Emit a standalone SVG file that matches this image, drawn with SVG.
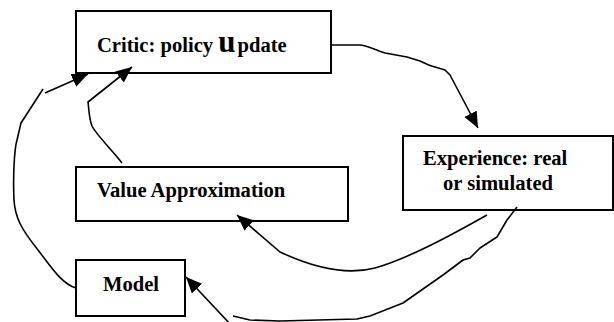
<svg xmlns="http://www.w3.org/2000/svg" width="614" height="322" viewBox="0 0 614 322">
<style>
  .box { fill: #ffffff; stroke: #000000; stroke-width: 2; }
  text { font-family: 'Liberation Serif', 'Times New Roman', 'DejaVu Serif', serif; font-weight: 700; font-size: 20.6px; fill: #000000; }
  .conn { fill: none; stroke: #000000; stroke-width: 1.6; stroke-linejoin: round; marker-end: url(#ah); }
</style>
<defs>
  <marker id="ah" markerUnits="userSpaceOnUse" markerWidth="17" markerHeight="15" refX="16" refY="7" orient="auto">
    <path d="M0,0 L16,7 L0,14 z" fill="#000000"/>
  </marker>
</defs>
<rect width="614" height="322" fill="#ffffff"/>
<g id="node-critic">
  <rect class="box" x="76" y="11" width="255" height="62"/>
  <text x="97" y="52">Critic: policy <tspan font-size="31">u</tspan><tspan dx="2">pdate</tspan></text>
</g>
<g id="node-experience">
  <rect class="box" x="403" y="136" width="210" height="74"/>
  <text x="423" y="165">Experience: real</text>
  <text x="443" y="190">or simulated</text>
</g>
<g id="node-value">
  <rect class="box" x="76" y="167" width="272" height="54"/>
  <text x="97" y="197">Value Approximation</text>
</g>
<g id="node-model">
  <rect class="box" x="76" y="260" width="109" height="56"/>
  <text x="103" y="291">Model</text>
</g>
<g id="connectors">
  <path class="conn" d="M331,45 L360,45 C366,45 375,50 385,53 L407,57 L420,61 C425,63 430,66 435,67 L445,70 L450,75 L478,128"/>
  <path class="conn" d="M76,288 C62,284 52,268 38,250 C22,230 15,218 14,200 C13,180 14,150 17,140 L21,123 L43,89 M45,93 L88,74"/>
  <path class="conn" d="M122,163 L118,158 C108,146 96,134 92,126 C89,118 89,110 88,102 L132,67"/>
  <path class="conn" d="M487,215 C455,233 410,258 375,268 C345,276 310,266 280,252 L237,215"/>
  <path class="conn" d="M517,207 L507,220 L497,237 L480,248 L470,258 L463,260 L443,275 L403,303 L370,316 L357,319 L280,321 L250,320 L233,316 M231,325 L186,277"/>
</g>
</svg>
